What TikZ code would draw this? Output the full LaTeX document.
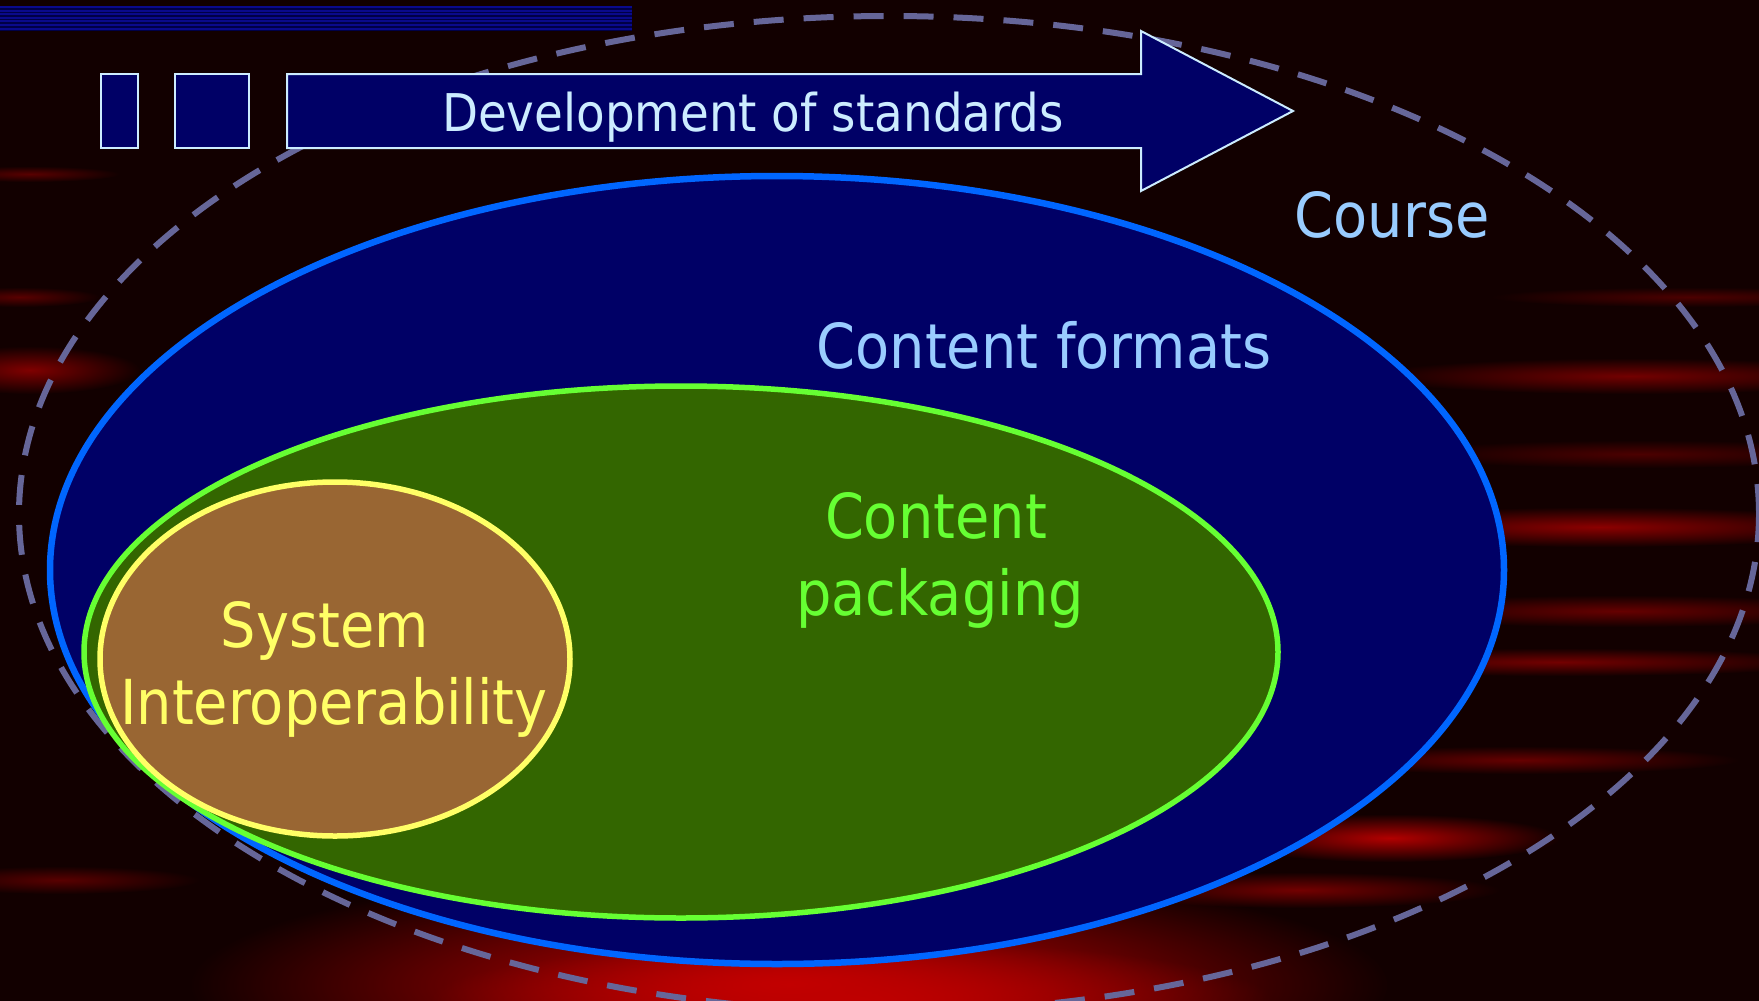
\documentclass[tikz,border=0pt]{standalone}
\usepackage{fontspec}
\setmainfont{DejaVu Sans}[FakeStretch=0.9]
\usetikzlibrary{fadings}
\definecolor{bg}{RGB}{18,0,0}
\definecolor{navy}{RGB}{0,0,102}
\definecolor{bluestroke}{RGB}{0,102,255}
\definecolor{greenfill}{RGB}{51,102,0}
\definecolor{greenstroke}{RGB}{102,255,51}
\definecolor{orangefill}{RGB}{153,102,51}
\definecolor{yellowstroke}{RGB}{255,255,102}
\definecolor{dashcol}{RGB}{102,102,153}
\definecolor{lightblue}{RGB}{153,204,255}
\definecolor{paleblue}{RGB}{204,236,255}
\definecolor{stripe}{RGB}{10,10,140}
\tikzfading[name=glowfade, inner color=transparent!0, outer color=transparent!100]
\tikzset{
  glow/.style={fill=#1, path fading=glowfade},
  boxstyle/.style={draw=paleblue, line width=2pt, fill=navy},
  lbl/.style={anchor=base, inner sep=0pt, font=\fontsize{62}{77}\selectfont},
}
\begin{document}
\begin{tikzpicture}[x=1pt,y=-1pt]
\useasboundingbox (0,0) rectangle (1759,1001);
\clip (0,0) rectangle (1759,1001);
\fill[bg] (0,0) rectangle (1759,1001);
% red streaks
\fill[glow={red!35!black}] (30,174) ellipse [x radius=90pt, y radius=8pt];
\fill[glow={red!35!black}] (20,297) ellipse [x radius=80pt, y radius=10pt];
\fill[glow={red!50!black}] (30,370) ellipse [x radius=110pt, y radius=24pt];
\fill[glow={red!30!black}] (1690,297) ellipse [x radius=200pt, y radius=10pt];
\fill[glow={red!45!black}] (1630,376) ellipse [x radius=260pt, y radius=18pt];
\fill[glow={red!30!black}] (1640,454) ellipse [x radius=240pt, y radius=14pt];
\fill[glow={red!55!black}] (1600,527) ellipse [x radius=280pt, y radius=20pt];
\fill[glow={red!40!black}] (1620,611) ellipse [x radius=260pt, y radius=16pt];
\fill[glow={red!45!black}] (1560,662) ellipse [x radius=280pt, y radius=14pt];
\fill[glow={red!40!black}] (1520,760) ellipse [x radius=220pt, y radius=14pt];
\fill[glow={red!70!black}] (1390,838) ellipse [x radius=170pt, y radius=24pt];
\fill[glow={red!45!black}] (1300,890) ellipse [x radius=200pt, y radius=18pt];
\fill[glow={red!35!black}] (60,880) ellipse [x radius=140pt, y radius=14pt];
\fill[glow={red!80!black}] (790,985) ellipse [x radius=600pt, y radius=120pt];
\fill[glow={red!75!black}] (850,1000) ellipse [x radius=420pt, y radius=60pt];
% course dashed ellipse
\draw[dashcol, line width=6pt, dash pattern=on 30pt off 20pt] (889,514) ellipse [x radius=870pt, y radius=498pt];
% content formats
\draw[bluestroke, fill=navy, line width=6.5pt] (777,570) ellipse [x radius=727pt, y radius=394pt];
% content packaging
\draw[greenstroke, fill=greenfill, line width=5.5pt] (681,652) ellipse [x radius=597pt, y radius=266pt];
% system interoperability
\draw[yellowstroke, fill=orangefill, line width=5.5pt] (335,659) ellipse [x radius=235pt, y radius=177pt];
% top stripe
\fill[navy!70!black] (0,6) rectangle (632,31);
\foreach \i in {0,...,6} \fill[stripe] (0,6+3.6*\i) rectangle (632,8+3.6*\i);
% boxes and arrow
\draw[boxstyle] (101,74) rectangle (138,148);
\draw[boxstyle] (175,74) rectangle (249,148);
\draw[boxstyle, line join=miter] (287,74) -- (1141,74) -- (1141,31) -- (1293,111) -- (1141,191) -- (1141,148) -- (287,148) -- cycle;
% labels
\node[lbl, text=paleblue, font=\fontsize{52}{64}\selectfont] (dev) at (753,131) {Development of standards};
\node[lbl, text=lightblue] (course) at (1392,237) {Course};
\node[lbl, text=lightblue] (formats) at (1044,368) {Content formats};
\node[lbl, text=greenstroke] (pack1) at (936,538) {Content};
\node[lbl, text=greenstroke] (pack2) at (940,615) {packaging};
\node[lbl, text=yellowstroke] (sys1) at (325,647) {System};
\node[lbl, text=yellowstroke] (sys2) at (334,724) {Interoperability};
\end{tikzpicture}
\end{document}
